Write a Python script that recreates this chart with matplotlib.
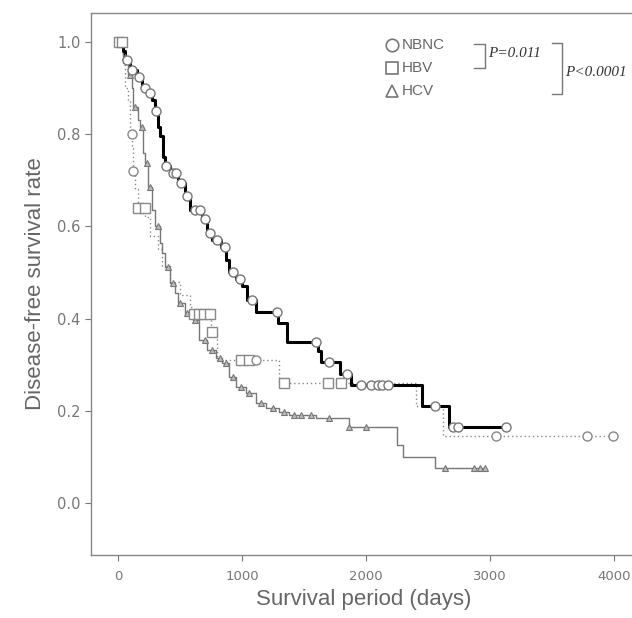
import numpy as np
import matplotlib
matplotlib.use("Agg")
import matplotlib.pyplot as plt

# Kaplan-Meier step data (days, survival)
nbnc_t = [0, 40, 60, 96, 152, 192, 240, 273, 297, 320, 336, 362, 377, 417, 481, 537,
          577, 681, 721, 761, 834, 874, 898, 954, 1002, 1042, 1114, 1290, 1363, 1610,
          1640, 1790, 1880, 2450, 2670, 3130]
nbnc_s = [1.0, 0.98, 0.96, 0.94, 0.925, 0.90, 0.89, 0.875, 0.85, 0.815, 0.795, 0.75,
          0.73, 0.715, 0.695, 0.665, 0.635, 0.615, 0.585, 0.57, 0.555, 0.527, 0.50,
          0.485, 0.47, 0.44, 0.415, 0.39, 0.35, 0.33, 0.305, 0.28, 0.255, 0.21, 0.165,
          0.165]
nbnc_cens = [20, 70, 110, 170, 215, 255, 310, 390, 440, 470, 510, 560, 620, 660, 700,
             740, 800, 860, 930, 980, 1080, 1280, 1600, 1700, 1850, 1960, 2040, 2100,
             2130, 2180, 2560, 2700, 2740, 3130]

hbv_t = [0, 40, 56, 80, 100, 112, 120, 135, 160, 216, 256, 320, 353, 420, 497, 577,
         600, 753, 800, 1299, 2400, 2620, 3990]
hbv_s = [1.0, 0.95, 0.90, 0.875, 0.80, 0.77, 0.72, 0.68, 0.64, 0.62, 0.58, 0.55, 0.515,
         0.48, 0.45, 0.425, 0.41, 0.37, 0.31, 0.26, 0.21, 0.145, 0.145]
hbv_sq = [10, 30, 165, 215, 610, 650, 695, 740, 760, 995, 1060, 1340, 1690, 1800]
hbv_circ = [110, 122, 1115, 3050, 3780, 3990]

hcv_t = [0, 40, 80, 112, 120, 160, 176, 200, 216, 240, 273, 297, 337, 353, 377, 417,
         457, 481, 537, 601, 657, 721, 793, 842, 898, 954, 1034, 1114, 1194, 1299, 1379,
         1595, 1860, 2250, 2300, 2560, 2958]
hcv_s = [1.0, 0.967, 0.928, 0.90, 0.86, 0.83, 0.816, 0.76, 0.737, 0.685, 0.636, 0.60,
         0.564, 0.542, 0.512, 0.477, 0.456, 0.434, 0.412, 0.397, 0.354, 0.332, 0.315,
         0.304, 0.273, 0.252, 0.238, 0.217, 0.206, 0.198, 0.19, 0.185, 0.165, 0.125,
         0.10, 0.075, 0.075]
hcv_cens = [60, 100, 140, 190, 230, 260, 320, 400, 440, 500, 560, 620, 700, 760, 820,
            870, 930, 990, 1060, 1150, 1250, 1340, 1420, 1480, 1560, 1700, 1860, 2000,
            2640, 2870, 2920, 2958]


def surv_at(t, s, x):
    idx = np.searchsorted(t, x, side="right") - 1
    return np.asarray(s)[idx]


fig = plt.figure(figsize=(6.32, 6.18), dpi=100)
ax = fig.add_axes([0.144, 0.102, 0.862, 0.877])

# NBNC
ax.step(nbnc_t, nbnc_s, where="post", color="black", lw=2.2, zorder=3)
ax.plot(nbnc_cens, surv_at(nbnc_t, nbnc_s, nbnc_cens), "o", ms=6.5, mfc="white",
        mec="#777777", mew=1.0, zorder=4)

# HBV
ax.step(hbv_t, hbv_s, where="post", color="#888888", lw=1.0, ls=(0, (1, 2)), zorder=2)
ax.plot(hbv_sq, surv_at(hbv_t, hbv_s, hbv_sq), "s", ms=6.5, mfc="white",
        mec="#888888", mew=1.0, zorder=4)
ax.plot(hbv_circ, surv_at(hbv_t, hbv_s, hbv_circ), "o", ms=6.5, mfc="white",
        mec="#888888", mew=1.0, zorder=4)

# HCV
ax.step(hcv_t, hcv_s, where="post", color="#777777", lw=1.0, zorder=2)
ax.plot(hcv_cens, surv_at(hcv_t, hcv_s, hcv_cens), "^", ms=4, mfc="#bbbbbb",
        mec="#777777", mew=0.8, zorder=3)

ax.set_xlim(-218, 4177)
ax.set_ylim(-0.113, 1.063)
ax.set_xticks([0, 1000, 2000, 3000, 4000])
ax.set_yticks([0.0, 0.2, 0.4, 0.6, 0.8, 1.0])
ax.set_yticklabels(["0.0", "0.2", "0.4", "0.6", "0.8", "1.0"])
ax.tick_params(colors="#777777", labelsize=10.5, length=4, width=0.8)
ax.tick_params(axis="x", pad=7, labelsize=9.5)
for lab in ax.get_xticklabels() + ax.get_yticklabels():
    lab.set_color("#777777")
for sp in ax.spines.values():
    sp.set_color("#888888")
    sp.set_linewidth(1.0)
ax.spines["right"].set_visible(False)

ax.set_xlabel("Survival period (days)", fontsize=16, color="#666666",
              family="Liberation Sans", labelpad=4)
ax.set_ylabel("Disease-free survival rate", fontsize=16, color="#666666",
              family="Liberation Sans", labelpad=8)

# legend block with p-value brackets
tr = ax.transAxes
lx, ly = 0.552, 0.941
gap = 0.0424
for i, m in enumerate(["o", "s", "^"]):
    ax.plot([lx], [ly - i * gap], m, ms=9, mfc="white", mec="#777777", mew=1.2,
            transform=tr, clip_on=False)
for i, lab in enumerate(["NBNC", "HBV", "HCV"]):
    ax.text(lx + 0.019, ly - i * gap, lab, transform=tr, fontsize=11, color="#666666",
            va="center", ha="left", family="Liberation Sans")
ax.plot([0.703, 0.723, 0.723, 0.703], [0.943, 0.943, 0.899, 0.899],
        color="#777777", lw=1.0, transform=tr, clip_on=False)
ax.text(0.729, 0.926, "P=0.011", transform=tr, fontsize=11,
        family="Liberation Serif", style="italic", color="#333333", va="center", ha="left")
ax.plot([0.846, 0.864, 0.864, 0.846], [0.945, 0.945, 0.851, 0.851],
        color="#777777", lw=1.0, transform=tr, clip_on=False)
ax.text(0.871, 0.891, "P<0.0001", transform=tr, fontsize=11,
        family="Liberation Serif", style="italic", color="#333333", va="center", ha="left")

fig.savefig("out.png", dpi=100)
